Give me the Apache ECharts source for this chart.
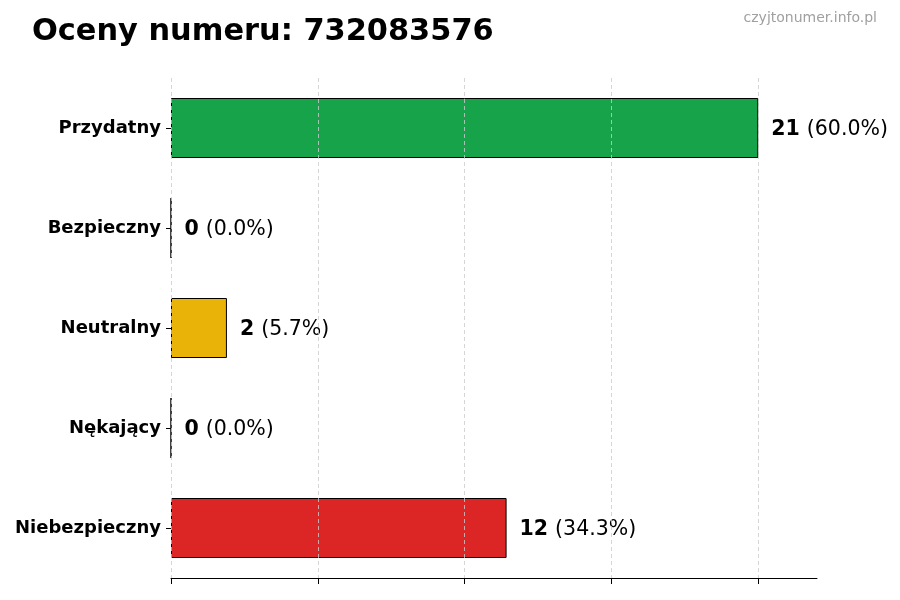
<!DOCTYPE html>
<html>
<head>
<meta charset="utf-8">
<script src="https://cdn.jsdelivr.net/npm/echarts@6/dist/echarts.min.js"></script>
<style>html,body{margin:0;padding:0;background:#fff}#c{width:900px;height:600px}</style>
</head>
<body>
<div id="c"></div>
<script>
const categories = ['Przydatny', 'Bezpieczny', 'Neutralny', 'Nękający', 'Niebezpieczny'];
const values = [21, 0, 2, 0, 12];
const colors = ['#16a34a', '#6b7280', '#eab308', '#f97316', '#dc2626'];
const xTicks = [0, 5.25, 10.5, 15.75, 21];
const titleText = 'Oceny numeru: 732083576';
const watermark = 'czyjtonumer.info.pl';

const total = values.reduce((a, b) => a + b, 0);
const maxV = Math.max(...values);
const chart = echarts.init(document.getElementById('c'));
const font = 'DejaVu Sans';

chart.setOption({
  animation: false,
  textStyle: { fontFamily: font },
  title: [
    { text: titleText, left: 27, top: 12, textStyle: { fontFamily: font, fontSize: 30.4, fontWeight: 'bold', color: '#000' } },
    { text: watermark, right: 18, top: 6, textStyle: { fontFamily: font, fontSize: 14, fontWeight: 'normal', color: '#a0a0a0' } }
  ],
  grid: { left: 171, right: 83, top: 78, bottom: 22 },
  xAxis: {
    type: 'value', min: 0, max: maxV * 1.1, interval: xTicks[1] - xTicks[0],
    z: 10,
    axisLine: { show: true, lineStyle: { color: '#000', width: 1 } },
    axisTick: { show: true, length: 6, customValues: xTicks, lineStyle: { color: '#000' } },
    axisLabel: { show: false, customValues: xTicks },
    splitLine: { show: true, lineStyle: { type: [4, 3], color: '#cccccc', width: 0.8 } }
  },
  yAxis: {
    type: 'category', data: categories, inverse: true,
    axisLine: { show: false },
    axisTick: { show: true, alignWithLabel: true, length: 5, lineStyle: { color: '#000' } },
    axisLabel: { fontFamily: font, fontSize: 18, fontWeight: 'bold', color: '#000', margin: 10, padding: [2, 0, 0, 0] }
  },
  series: [{
    type: 'bar',
    barWidth: 60,
    data: values.map((v, i) => ({ value: v, itemStyle: { color: colors[i] } })),
    itemStyle: { borderColor: '#000', borderWidth: 1 },
    label: {
      show: true, position: 'right', distance: 13, offset: [0, 1.5],
      formatter: p => '{b|' + p.value + '}{s| }{n|(' + (p.value / total * 100).toFixed(1) + '%)}',
      rich: {
        b: { fontFamily: font, fontSize: 20.5, fontWeight: 'bold', color: '#000' },
        s: { fontFamily: font, fontSize: 20.5, color: '#000', width: 7 },
        n: { fontFamily: font, fontSize: 20.5, color: '#000' }
      }
    }
  }]
});
</script>
</body>
</html>
